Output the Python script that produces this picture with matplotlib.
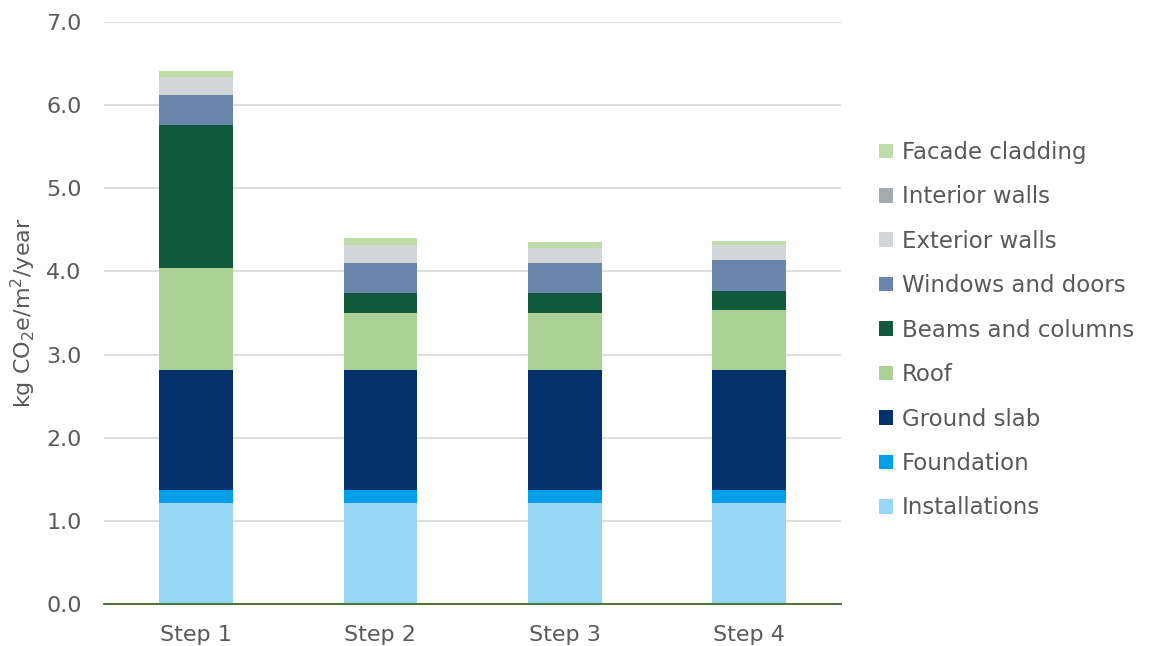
import numpy as np
import matplotlib.pyplot as plt
from matplotlib.patches import Patch

plt.rcParams['font.family'] = ['DejaVu Sans']
plt.rcParams['mathtext.fontset'] = 'dejavusans'

steps = ['Step 1', 'Step 2', 'Step 3', 'Step 4']

# bottom to top of each stack
components = ['Installations', 'Foundation', 'Ground slab', 'Roof',
              'Beams and columns', 'Windows and doors', 'Exterior walls',
              'Interior walls', 'Facade cladding']
installations = [1.215, 1.215, 1.215, 1.215]
foundation = [0.156, 0.156, 0.156, 0.156]
ground_slab = [1.444, 1.444, 1.444, 1.444]
roof = [1.23, 0.69, 0.69, 0.716]
beams_columns = [1.71, 0.24, 0.235, 0.234]
windows_doors = [0.37, 0.355, 0.36, 0.37]
exterior_walls = [0.21, 0.215, 0.185, 0.18]
interior_walls = [0.0, 0.0, 0.0, 0.0]
facade_cladding = [0.08, 0.09, 0.065, 0.055]

values = [installations, foundation, ground_slab, roof, beams_columns,
          windows_doors, exterior_walls, interior_walls, facade_cladding]
colors = ['#98d7f6', '#009fe8', '#04316c', '#acd194', '#115a3e',
          '#6a85ab', '#d3d6d9', '#a5acaf', '#c0dca8']

fig = plt.figure(figsize=(11.49, 6.46), dpi=100)
ax = fig.add_axes([0.0905, 0.065, 0.6415, 0.901])

x = np.arange(len(steps))
bottom = np.zeros(len(steps))
for vals, c in zip(values, colors):
    ax.bar(x, vals, width=0.4, bottom=bottom, color=c, zorder=3)
    bottom += np.array(vals)

ax.set_xlim(-0.5, 3.5)
ax.set_ylim(0, 7)
ax.set_yticks(np.arange(0, 7.5, 1.0))
ax.set_yticklabels([f'{v:.1f}' for v in np.arange(0, 7.5, 1.0)])
ax.set_xticks(x)
ax.set_xticklabels(steps)
ax.grid(axis='y', color='#d9d9d9', linewidth=1.2, zorder=0)
for s in ['top', 'right', 'left']:
    ax.spines[s].set_visible(False)
ax.spines['bottom'].set_color('#3e6b2c')
ax.spines['bottom'].set_linewidth(1.3)
ax.spines['bottom'].set_zorder(4)
ax.tick_params(axis='both', length=0, labelsize=16, labelcolor='#595959')
ax.tick_params(axis='y', pad=16)
ax.tick_params(axis='x', pad=15)
ax.set_ylabel('kg CO$_2$e/m$^2$/year', fontsize=16, color='#595959')
ax.yaxis.set_label_coords(-0.089, 0.5)

handles = [Patch(facecolor=c, edgecolor='none') for c in colors[::-1]]
fig.legend(handles, components[::-1], loc='upper left',
           bbox_to_anchor=(0.757, 0.796), frameon=False,
           fontsize=16.5, labelcolor='#595959', handlelength=0.6,
           handleheight=0.6, handletextpad=0.4, labelspacing=0.935,
           borderaxespad=0)

fig.savefig('out.png', dpi=100)
